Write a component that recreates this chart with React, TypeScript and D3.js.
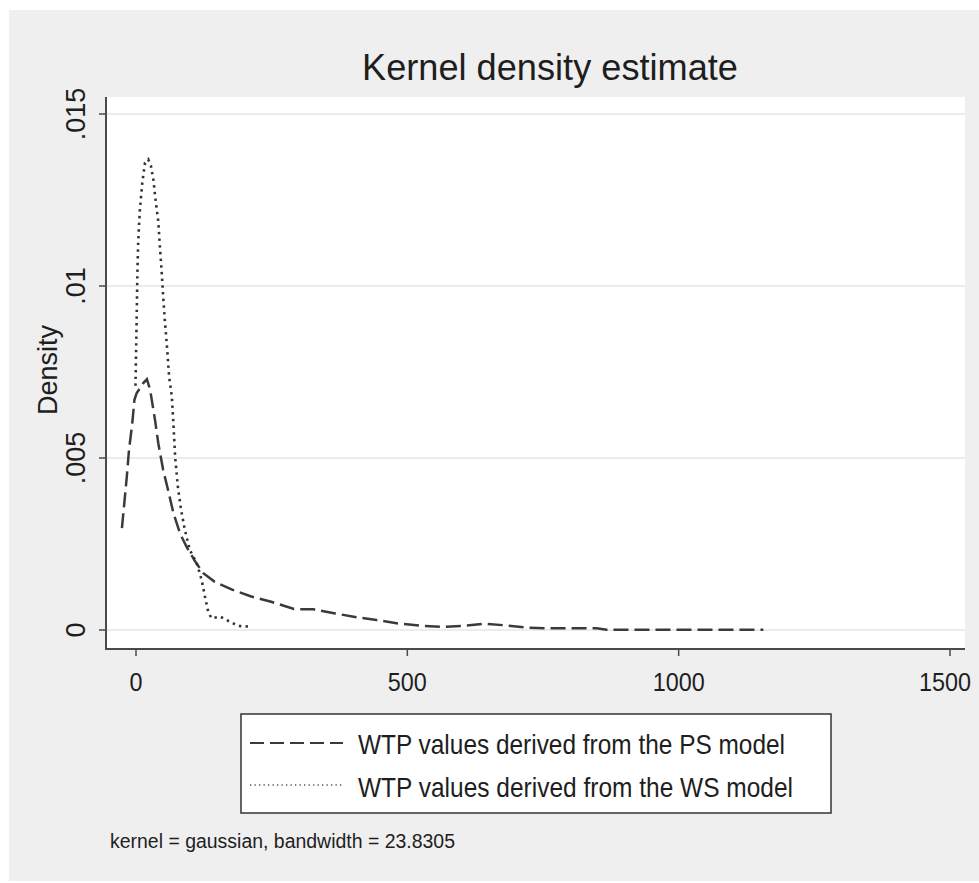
import * as React from 'react';
import { axisBottom, line, scaleLinear, select } from 'd3';

// kdensity of WTP, PS model (dashed)
const psWtp = [-25, -16, -12, -6, -2, 2, 14, 21, 27, 36, 42, 51, 60, 70, 82, 94, 110, 125, 146, 177, 212, 250, 292, 328, 368, 408, 444, 484, 524, 564, 604, 641, 681, 721, 755, 850, 868, 1000, 1157];
const psDensity = [0.00296, 0.00446, 0.00523, 0.0060, 0.00669, 0.00688, 0.00717, 0.00729, 0.00698, 0.0061, 0.00543, 0.00465, 0.00407, 0.00339, 0.00281, 0.00242, 0.00199, 0.00165, 0.0014, 0.00118, 0.00098, 0.00082, 0.00061, 0.0006, 0.00048, 0.00037, 0.00029, 0.00019, 0.000125, 0.00009, 0.00012, 0.00018, 0.000137, 0.000067, 0.00005, 0.00005, 0.00001, 0.000008, 0.000005];

// kdensity of WTP, WS model (dotted)
const wsWtp = [0, 0.5, 2, 3.5, 5, 8, 12.5, 17.5, 23.5, 28.5, 33, 37, 42, 45, 48, 51, 54, 58, 62, 67, 70, 73, 78, 84, 91, 100, 113, 122, 128, 134, 140, 156, 174, 189, 208];
const wsDensity = [0.0071, 0.0076, 0.0089, 0.0104, 0.0113, 0.0122, 0.0130, 0.01358, 0.01368, 0.01349, 0.01308, 0.0125, 0.01187, 0.01114, 0.01047, 0.00969, 0.00901, 0.00824, 0.00736, 0.00678, 0.00596, 0.00504, 0.00417, 0.00349, 0.00291, 0.00233, 0.00194, 0.00145, 0.00097, 0.00053, 0.00034, 0.00039, 0.00024, 0.00012, 0.0001];

const xTicks = [0, 500, 1000, 1500];
const yTicks = [0, 0.005, 0.01, 0.015];
const yTickLabels = ['0', '.005', '.01', '.015'];
const legendLabels = ['WTP values derived from the PS model', 'WTP values derived from the WS model'];
const legendWidths = [427, 435];
const titleText = 'Kernel density estimate';
const yLabel = 'Density';
const noteText = 'kernel = gaussian, bandwidth = 23.8305';

const W = 979;
const H = 883;
const plot = { left: 106, right: 965, top: 97, bottom: 649 };
const curveColor = '#3a3a3a';
const textColor = '#1e1e1e';

const App = () => {
    const svgRef = React.useRef<SVGSVGElement>(null);

    React.useEffect(() => {
        if (!svgRef.current) return;
        const svg = select(svgRef.current);
        svg.selectAll('*').remove();

        const xScale = scaleLinear().domain([0, 1500]).range([135.5, 949.5]);
        const yScale = scaleLinear().domain([0, 0.015]).range([630, 114]);

        // graph region + plot region
        svg.append('rect').attr('x', 9).attr('y', 10).attr('width', W - 9).attr('height', 871).attr('fill', '#efefef');
        svg.append('rect')
            .attr('x', plot.left).attr('y', plot.top)
            .attr('width', plot.right - plot.left).attr('height', plot.bottom - plot.top)
            .attr('fill', '#ffffff');

        // horizontal grid
        svg.append('g').selectAll('line').data(yTicks).join('line')
            .attr('x1', plot.left).attr('x2', plot.right)
            .attr('y1', (d) => yScale(d)).attr('y2', (d) => yScale(d))
            .attr('stroke', '#ececec').attr('stroke-width', 2);

        // curves
        const path = line<[number, number]>()
            .x((d) => xScale(d[0]))
            .y((d) => yScale(d[1]));

        svg.append('path')
            .datum(psWtp.map((v, i) => [v, psDensity[i]] as [number, number]))
            .attr('d', path)
            .attr('fill', 'none')
            .attr('stroke', curveColor)
            .attr('stroke-width', 2.5)
            .attr('stroke-dasharray', '15,6');

        svg.append('path')
            .datum(wsWtp.map((v, i) => [v, wsDensity[i]] as [number, number]))
            .attr('d', path)
            .attr('fill', 'none')
            .attr('stroke', '#333333')
            .attr('stroke-width', 2.6)
            .attr('stroke-dasharray', '2.4,4.3');

        // axis lines
        svg.append('line').attr('x1', plot.left).attr('x2', plot.left).attr('y1', plot.top).attr('y2', plot.bottom + 1)
            .attr('stroke', '#4a4a4a').attr('stroke-width', 2);
        svg.append('line').attr('x1', plot.left).attr('x2', plot.right).attr('y1', plot.bottom).attr('y2', plot.bottom)
            .attr('stroke', '#4a4a4a').attr('stroke-width', 2);

        // x axis
        const xAxis = axisBottom(xScale).tickValues(xTicks).tickSize(7).tickPadding(17).tickFormat((d) => String(d)) as any;
        const gx = svg.append('g').attr('transform', `translate(0, ${plot.bottom})`).call(xAxis);
        gx.select('.domain').remove();
        gx.selectAll('line').attr('stroke', '#4a4a4a').attr('stroke-width', 1.5);
        gx.selectAll('text')
            .attr('fill', textColor)
            .attr('x', (d: any) => (d === 1500 ? -5 : 0))
            .attr('textLength', (d: any) => String(d).length * 13)
            .attr('lengthAdjust', 'spacingAndGlyphs')
            .style('font-size', '26px')
            .style('font-family', '"Liberation Sans", Arial, sans-serif');

        // y axis (rotated labels)
        const gy = svg.append('g');
        gy.selectAll('line').data(yTicks).join('line')
            .attr('x1', plot.left - 7).attr('x2', plot.left)
            .attr('y1', (d) => yScale(d)).attr('y2', (d) => yScale(d))
            .attr('stroke', '#4a4a4a').attr('stroke-width', 1.5);
        gy.selectAll('text').data(yTicks).join('text')
            .attr('transform', (d) => `translate(85, ${yScale(d)}) rotate(-90)`)
            .attr('text-anchor', 'middle')
            .attr('fill', textColor)
            .style('font-size', '27px')
            .text((d, i) => yTickLabels[i]);

        svg.append('text')
            .attr('transform', 'translate(57, 370) rotate(-90)')
            .attr('text-anchor', 'middle')
            .attr('fill', textColor)
            .style('font-size', '27px')
            .text(yLabel);

        // title
        svg.append('text')
            .attr('x', 362).attr('y', 80)
            .attr('textLength', 376).attr('lengthAdjust', 'spacingAndGlyphs')
            .attr('fill', textColor)
            .style('font-size', '37px')
            .text(titleText);

        // legend
        const legend = svg.append('g');
        legend.append('rect')
            .attr('x', 241).attr('y', 714).attr('width', 590).attr('height', 99)
            .attr('fill', '#ffffff').attr('stroke', '#333333').attr('stroke-width', 1.5);
        const rowY = [743, 785];
        const rowBase = [754, 797];
        legend.append('line').attr('x1', 250).attr('x2', 343).attr('y1', rowY[0]).attr('y2', rowY[0])
            .attr('stroke', curveColor).attr('stroke-width', 2).attr('stroke-dasharray', '14,6');
        legend.append('line').attr('x1', 250).attr('x2', 343).attr('y1', rowY[1]).attr('y2', rowY[1])
            .attr('stroke', '#555555').attr('stroke-width', 1.3).attr('stroke-dasharray', '1.3,3.2');
        legend.selectAll('text.lbl').data(legendLabels).join('text')
            .attr('class', 'lbl')
            .attr('x', 358).attr('y', (d, i) => rowBase[i])
            .attr('textLength', (d, i) => legendWidths[i]).attr('lengthAdjust', 'spacingAndGlyphs')
            .attr('fill', textColor)
            .style('font-size', '28px')
            .text((d) => d);

        // note
        svg.append('text')
            .attr('x', 110).attr('y', 848)
            .attr('textLength', 345).attr('lengthAdjust', 'spacingAndGlyphs')
            .attr('fill', textColor)
            .style('font-size', '20px')
            .text(noteText);
    }, [svgRef]);

    return (
        <svg ref={svgRef} width={W} height={H}
            style={{ position: 'absolute', left: 0, top: 0, fontFamily: '"Liberation Sans", Arial, sans-serif' }} />
    );
};

export default App;
